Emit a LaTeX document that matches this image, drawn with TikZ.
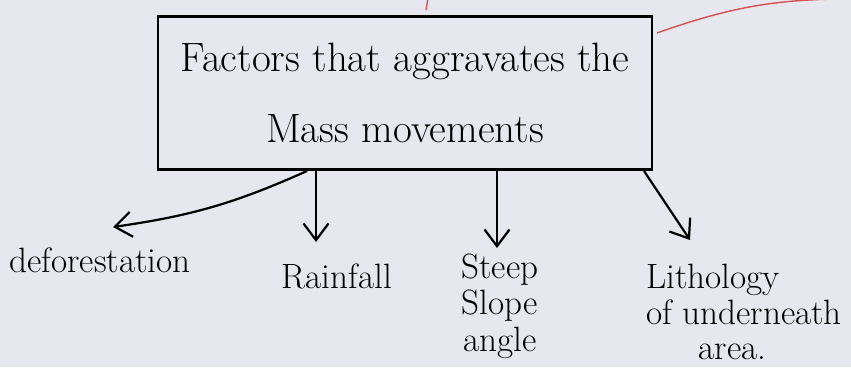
\documentclass[tikz,border=0pt]{standalone}
\usepackage{tikz}
\usetikzlibrary{arrows.meta, positioning}
\definecolor{paper}{RGB}{231,232,239}
\definecolor{inkred}{RGB}{214,80,80}
\tikzset{
  headbox/.style = {draw, line width=2.4pt, minimum width=14.82cm, minimum height=4.6cm,
                    align=center, font=\fontsize{35}{60}\selectfont},
  factor/.style  = {align=center, font=\fontsize{30}{31}\selectfont},
  branch/.style  = {-{Straight Barb[length=5mm, width=7.5mm]}, line width=1.9pt, black},
  redlink/.style = {inkred, line width=1.2pt},
}
\begin{document}
\begin{tikzpicture}[x=0.03cm, y=-0.03cm]
  % paper
  \fill[paper] (0,0) rectangle (851,367);
  \useasboundingbox (0,0) rectangle (851,367);
  % main box
  \node[headbox] (box) at (405,93) {Factors that aggravates the\\Mass movements};
  % factors
  \node[factor] (defo) at (100,260) {deforestation};
  \node[factor] (rain) at (337,276) {Rainfall};
  \node[factor] (steep) at (500,306) {Steep\\Slope\\angle};
  \node[factor, align=left, font=\fontsize{30}{30}\selectfont] (litho) at (744,312) {Lithology\\of underneath\\\hspace*{1.5em}area.};
  % branches
  \coordinate (d0) at (307,171);
  \coordinate (d1) at (113,227);
  \draw[branch] (d0) to[bend left=8] (d1);
  \coordinate (r0) at (316,171);
  \coordinate (r1) at (316,242);
  \draw[branch] (r0) -- (r1);
  \coordinate (s0) at (497,171);
  \coordinate (s1) at (497,248);
  \draw[branch] (s0) -- (s1);
  \coordinate (l0) at (644,171);
  \coordinate (l1) at (690,240);
  \draw[branch] (l0) -- (l1);
  % red marks from elsewhere on the page
  \coordinate (t0) at (428,-2);
  \coordinate (t1) at (426,10);
  \draw[redlink] (t0) -- (t1);
  \coordinate (e0) at (657,33);
  \coordinate (e1) at (860,-1);
  \draw[redlink] (e0) to[bend left=10] (e1);
\end{tikzpicture}
\end{document}
